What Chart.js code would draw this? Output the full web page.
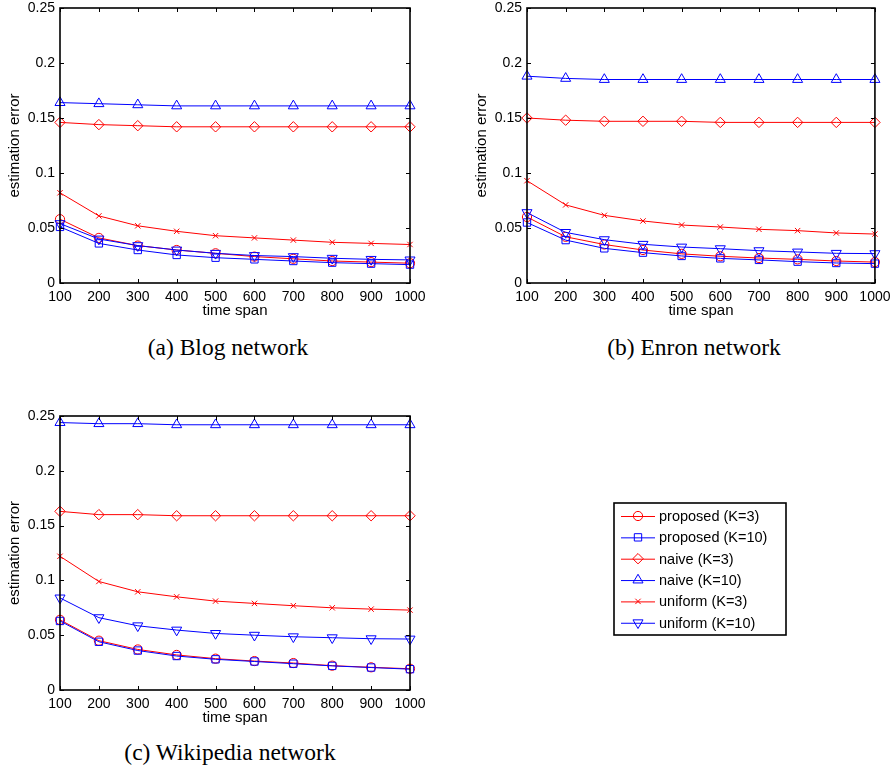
<!DOCTYPE html>
<html><head><meta charset="utf-8">
<script src="https://cdn.jsdelivr.net/npm/chart.js@4.4.0/dist/chart.umd.min.js"></script>
<style>
html,body{margin:0;padding:0;background:#fff;overflow:hidden;width:896px;height:771px;position:relative}
canvas{position:absolute}
.cap{position:absolute;font-family:"Liberation Serif","Times New Roman",serif;font-size:23.5px;line-height:23px;white-space:nowrap;color:#000;transform:translateX(-50%)}
</style></head><body>
<canvas id="ca" width="450" height="342" style="left:0;top:-12px"></canvas>
<canvas id="cb" width="429" height="342" style="left:467px;top:-12px"></canvas>
<canvas id="cc" width="896" height="341" style="left:0;top:396px"></canvas>
<div class="cap" style="left:228px;top:336px">(a) Blog network</div>
<div class="cap" style="left:694px;top:336px">(b) Enron network</div>
<div class="cap" style="left:230px;top:741px">(c) Wikipedia network</div>
<script>
const timeSpans = ['100','200','300','400','500','600','700','800','900','1000'];
const yTicks = [0, 0.05, 0.1, 0.15, 0.2, 0.25];
const seriesLabels = ['proposed (K=3)','proposed (K=10)','naive (K=3)','naive (K=10)','uniform (K=3)','uniform (K=10)'];
const xTitle = 'time span';
const yTitle = 'estimation error';

const blogProposedK3  = [0.058, 0.041, 0.034, 0.030, 0.027, 0.024, 0.022, 0.020, 0.019, 0.018];
const blogProposedK10 = [0.051, 0.036, 0.030, 0.0255, 0.023, 0.0215, 0.020, 0.0185, 0.0176, 0.0167];
const blogNaiveK3     = [0.146, 0.144, 0.143, 0.142, 0.142, 0.142, 0.142, 0.142, 0.142, 0.142];
const blogNaiveK10    = [0.164, 0.163, 0.162, 0.161, 0.161, 0.161, 0.161, 0.161, 0.161, 0.161];
const blogUniformK3   = [0.082, 0.061, 0.052, 0.047, 0.043, 0.041, 0.039, 0.037, 0.036, 0.035];
const blogUniformK10  = [0.054, 0.040, 0.034, 0.030, 0.027, 0.025, 0.024, 0.0225, 0.0215, 0.021];

const enronProposedK3  = [0.060, 0.042, 0.035, 0.030, 0.0265, 0.0243, 0.0227, 0.0215, 0.020, 0.019];
const enronProposedK10 = [0.055, 0.039, 0.0315, 0.0276, 0.0246, 0.0224, 0.021, 0.0194, 0.0182, 0.0176];
const enronNaiveK3     = [0.150, 0.148, 0.147, 0.147, 0.147, 0.146, 0.146, 0.146, 0.146, 0.146];
const enronNaiveK10    = [0.188, 0.186, 0.185, 0.185, 0.185, 0.185, 0.185, 0.185, 0.185, 0.185];
const enronUniformK3   = [0.093, 0.071, 0.0615, 0.0564, 0.0527, 0.0509, 0.0488, 0.0476, 0.0455, 0.0445];
const enronUniformK10  = [0.064, 0.046, 0.0394, 0.0352, 0.0327, 0.0312, 0.0294, 0.0282, 0.027, 0.0267];

const wikiProposedK3  = [0.064, 0.045, 0.037, 0.032, 0.0286, 0.0264, 0.0246, 0.0222, 0.0207, 0.0194];
const wikiProposedK10 = [0.063, 0.044, 0.036, 0.031, 0.028, 0.026, 0.024, 0.022, 0.0205, 0.019];
const wikiNaiveK3     = [0.163, 0.160, 0.160, 0.159, 0.159, 0.159, 0.159, 0.159, 0.159, 0.159];
const wikiNaiveK10    = [0.244, 0.243, 0.243, 0.242, 0.242, 0.242, 0.242, 0.242, 0.242, 0.242];
const wikiUniformK3   = [0.122, 0.099, 0.0896, 0.085, 0.0811, 0.079, 0.0769, 0.075, 0.0738, 0.0729];
const wikiUniformK10  = [0.084, 0.066, 0.0586, 0.0547, 0.0516, 0.050, 0.0486, 0.0477, 0.0468, 0.0465];

const RED = '#ff0000', BLUE = '#0000ff';
const styles = [
  {color: RED,  pointStyle: 'circle',   radius: 4.6, rotation: 0},
  {color: BLUE, pointStyle: 'rect',     radius: 5.2, rotation: 0},
  {color: RED,  pointStyle: 'rectRot',  radius: 5.2, rotation: 0},
  {color: BLUE, pointStyle: 'triangle', radius: 5.8, rotation: 0},
  {color: RED,  pointStyle: 'crossRot', radius: 3.8, rotation: 0},
  {color: BLUE, pointStyle: 'triangle', radius: 5.8, rotation: 180}
];
const FONT = {family: '"Liberation Sans", Arial, sans-serif', size: 14};
const TFONT = {family: '"Liberation Sans", Arial, sans-serif', size: 15};

function makeDatasets(series) {
  return series.map((vals, i) => ({
    label: seriesLabels[i],
    data: vals,
    borderColor: styles[i].color,
    backgroundColor: 'rgba(0,0,0,0)',
    borderWidth: 1,
    pointStyle: styles[i].pointStyle,
    pointRadius: styles[i].radius,
    pointRotation: styles[i].rotation,
    pointBorderColor: styles[i].color,
    pointBackgroundColor: 'rgba(0,0,0,0)',
    pointBorderWidth: 1,
    tension: 0,
    fill: false,
    clip: 10,
    order: series.length - i
  }));
}

const boxPlugin = {
  id: 'mbox',
  afterDraw(chart) {
    const {ctx, chartArea: a, scales: {x, y}} = chart;
    ctx.save();
    ctx.strokeStyle = '#000';
    ctx.lineWidth = 1;
    ctx.beginPath();
    x.ticks.forEach((t, i) => {
      const px = Math.round(x.getPixelForTick(i)) + 0.5;
      ctx.moveTo(px, a.bottom); ctx.lineTo(px, a.bottom - 4);
      ctx.moveTo(px, a.top); ctx.lineTo(px, a.top + 4);
    });
    y.ticks.forEach(t => {
      const py = Math.round(y.getPixelForValue(t.value)) + 0.5;
      ctx.moveTo(a.left, py); ctx.lineTo(a.left + 4, py);
      ctx.moveTo(a.right, py); ctx.lineTo(a.right - 4, py);
    });
    ctx.stroke();
    ctx.lineWidth = 1.6;
    ctx.strokeRect(a.left, a.top, a.right - a.left, a.bottom - a.top);
    ctx.restore();
  }
};

function drawMarker(ctx, st, x, y) {
  ctx.save();
  ctx.strokeStyle = st.color;
  ctx.fillStyle = 'rgba(0,0,0,0)';
  ctx.lineWidth = 1;
  if (Chart.helpers && Chart.helpers.drawPoint) {
    Chart.helpers.drawPoint(ctx, {pointStyle: st.pointStyle, radius: st.radius, rotation: st.rotation, borderWidth: 1}, x, y);
  }
  ctx.restore();
}

const legendPlugin = {
  id: 'mlegend',
  afterDraw(chart, args, opts) {
    if (!opts || !opts.show) return;
    const ctx = chart.ctx;
    const bx = opts.x, by = opts.y, bw = opts.w, bh = opts.h;
    ctx.save();
    ctx.fillStyle = '#fff';
    ctx.fillRect(bx, by, bw, bh);
    ctx.strokeStyle = '#000';
    ctx.lineWidth = 1.6;
    ctx.strokeRect(bx, by, bw, bh);
    ctx.font = '14.5px "Liberation Sans", Arial, sans-serif';
    ctx.textBaseline = 'middle';
    ctx.textAlign = 'left';
    chart.data.datasets.forEach((ds, i) => {
      const st = styles[i];
      const ry = opts.firstRow + i * opts.rowGap;
      ctx.strokeStyle = st.color;
      ctx.lineWidth = 1;
      ctx.beginPath();
      ctx.moveTo(bx + 7, ry + 0.5); ctx.lineTo(bx + 41, ry + 0.5);
      ctx.stroke();
      drawMarker(ctx, st, bx + 24, ry);
      ctx.fillStyle = '#000';
      ctx.fillText(ds.label, bx + 45, ry + 1);
    });
    ctx.restore();
  }
};

function makeChart(id, series, padRight, legendOpts) {
  return new Chart(document.getElementById(id), {
    type: 'line',
    data: {labels: timeSpans, datasets: makeDatasets(series)},
    plugins: [boxPlugin, legendPlugin],
    options: {
      responsive: false,
      animation: false,
      events: [],
      layout: {padding: {top: 20, left: 0, right: padRight, bottom: 0}},
      plugins: {
        legend: {display: false},
        tooltip: {enabled: false},
        mlegend: legendOpts || {show: false}
      },
      scales: {
        x: {
          type: 'category',
          offset: false,
          grid: {display: false, drawTicks: false},
          border: {display: false},
          ticks: {color: '#000', font: FONT, padding: 5.5, maxRotation: 0, autoSkip: false},
          title: {display: true, text: xTitle, color: '#000', font: TFONT, padding: {top: 0, bottom: 10}},
          afterFit: s => { s.height = 47; }
        },
        y: {
          min: 0, max: 0.25,
          grid: {display: false, drawTicks: false},
          border: {display: false},
          afterBuildTicks: s => { s.ticks = yTicks.map(v => ({value: v})); },
          ticks: {color: '#000', font: FONT, padding: 5, callback: v => String(+Number(v).toFixed(2))},
          title: {display: true, text: yTitle, color: '#000', font: TFONT, padding: {top: 6, bottom: 0}},
          afterFit: s => { s.width = 60; }
        }
      }
    }
  });
}

makeChart('ca', [blogProposedK3, blogProposedK10, blogNaiveK3, blogNaiveK10, blogUniformK3, blogUniformK10], 40);
makeChart('cb', [enronProposedK3, enronProposedK10, enronNaiveK3, enronNaiveK10, enronUniformK3, enronUniformK10], 18);
makeChart('cc', [wikiProposedK3, wikiProposedK10, wikiNaiveK3, wikiNaiveK10, wikiUniformK3, wikiUniformK10], 486,
  {show: true, x: 614, y: 107, w: 172, h: 132, firstRow: 120, rowGap: 21.35});
</script>
</body></html>
